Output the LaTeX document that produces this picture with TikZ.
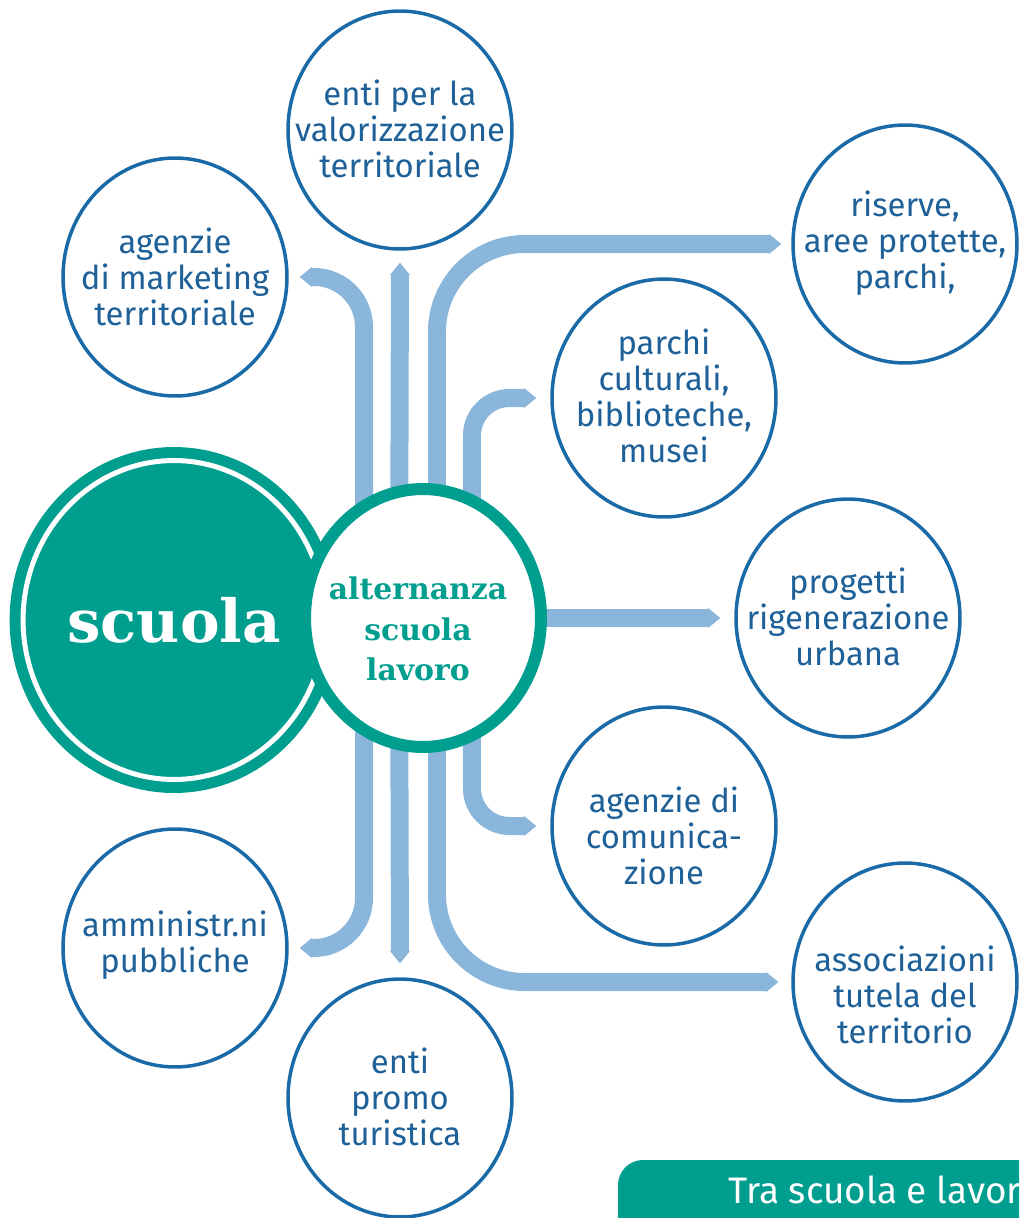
\documentclass[tikz,border=0pt]{standalone}
\usepackage{fontspec}
\setmainfont{Fira Sans}
\newfontfamily\slabfont{DejaVu Serif}
\usepackage{tikz}
\usetikzlibrary{arrows.meta,shapes.geometric}
\definecolor{ringblue}{RGB}{26,106,168}
\definecolor{textblue}{RGB}{30,96,152}
\definecolor{bandblue}{RGB}{138,182,219}
\definecolor{schoolteal}{RGB}{0,158,143}
\tikzset{
  ring/.style={ellipse, draw=ringblue, line width=0.07cm, fill=white,
    minimum width=4.48cm, minimum height=4.76cm, inner sep=0pt},
  words/.style={text=textblue, align=center, inner sep=0pt,
    font=\fontsize{18.7}{20.4}\selectfont},
  band/.style={draw=bandblue, line width=0.36cm,
    -{Triangle[width=11.5pt,length=7pt,line width=0pt]}}
}

\begin{document}
\begin{tikzpicture}[x=0.02cm, y=-0.02cm]
  \useasboundingbox (0,0) rectangle (1019,1218);
  \clip (0,0) rectangle (1019,1218);

  % partner circles
  \node[ring] (valor) at (400,130) {};
  \node[ring] (mktg) at (175,277) {};
  \node[ring] (riserve) at (905,244) {};
  \node[ring] (musei) at (664,398) {};
  \node[ring] (rigen) at (848,618) {};
  \node[ring] (comun) at (664,826) {};
  \node[ring] (tutela) at (905,982) {};
  \node[ring] (ammin) at (175,948) {};
  \node[ring] (promo) at (400,1098) {};

  % their texts
  \node[words] (valor-t) at (400,129) {enti per la\\valorizzazione\\territoriale};
  \node[words] (mktg-t) at (175,277) {agenzie\\di marketing\\territoriale};
  \node[words] (riserve-t) at (905,243) {riserve,\\aree protette,\\parchi,};
  \node[words] (musei-t) at (664,396) {parchi\\culturali,\\biblioteche,\\musei};
  \node[words] (rigen-t) at (848,617) {progetti\\rigenerazione\\urbana};
  \node[words] (comun-t) at (664,836) {agenzie di\\comunica-\\zione};
  \node[words] (tutela-t) at (905,995) {associazioni\\tutela del\\territorio};
  \node[words] (ammin-t) at (175,945) {amministr.ni\\pubbliche};
  \node[words] (promo-t) at (400,1097) {enti\\promo\\turistica};

  \coordinate (hub) at (423,618);

  % bands going up
  \draw[band, rounded corners=1cm] ([xshift=-1.18cm]hub) |- ([xshift=0.22cm]mktg.east);
  \draw[band] ([xshift=-0.48cm]hub) -- ([yshift=-0.24cm]valor.south);
  \draw[band, rounded corners=1.75cm] ([xshift=0.28cm]hub) |- ([xshift=-0.2cm]riserve.west);
  \draw[band, rounded corners=0.75cm] ([xshift=0.98cm]hub) |- ([xshift=-0.28cm]musei.west);

  % band to the right
  \draw[band] (hub) -- ([xshift=-0.28cm]rigen.west);

  % bands going down
  \draw[band, rounded corners=1cm] ([xshift=-1.18cm]hub) |- ([xshift=0.22cm]ammin.east);
  \draw[band] ([xshift=-0.48cm]hub) -- ([yshift=0.28cm]promo.north);
  \draw[band, rounded corners=1.75cm] ([xshift=0.28cm]hub) |- ([xshift=-0.26cm]tutela.west);
  \draw[band, rounded corners=0.75cm] ([xshift=0.98cm]hub) |- ([xshift=-0.28cm]comun.west);

  % scuola and alternanza
  \node[ellipse, fill=schoolteal, draw=schoolteal, double=white, double distance=0.1cm,
    line width=0.22cm, minimum width=5.94cm, minimum height=6.38cm, inner sep=0pt,
    text=white, font=\slabfont\bfseries\fontsize{33.8}{36}\selectfont] (scuola) at (174,620) {scuola};
  \node[ellipse, fill=white, draw=schoolteal, line width=0.24cm,
    minimum width=4.72cm, minimum height=5.16cm, inner sep=0pt] (alt) at (hub) {};
  \node[align=center, inner sep=0pt, text=schoolteal,
    font=\slabfont\bfseries\fontsize{17}{23.2}\selectfont] (alt-t) at (418,629) {alternanza\\scuola\\lavoro};

  % caption tab
  \fill[schoolteal, rounded corners=0.5cm] (618,1160) rectangle (1080,1260);
  \node[anchor=base west, text=white, font=\fontsize{21}{25}\selectfont] (tab) at (722,1203) {Tra scuola e lavoro};
\end{tikzpicture}
\end{document}
